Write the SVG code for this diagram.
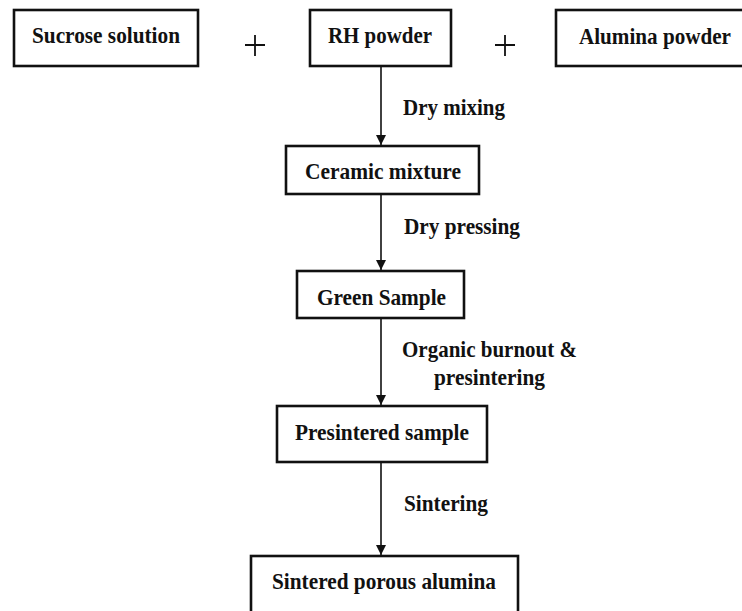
<svg xmlns="http://www.w3.org/2000/svg" width="742" height="611" viewBox="0 0 742 611">
<style>
.box{fill:#fff;stroke:#111;stroke-width:2.6}
.t{font-family:"Liberation Serif","Times New Roman",serif;font-weight:bold;font-size:24px;fill:#111}
.lbl{font-family:"Liberation Serif","Times New Roman",serif;font-weight:bold;font-size:23px;fill:#111}
.edge{stroke:#111;stroke-width:1.6;fill:none}
.plus{stroke:#111;stroke-width:1.8}
</style>
<defs>
<marker id="arr" viewBox="0 0 10 10" refX="10" refY="5" markerWidth="10" markerHeight="10" markerUnits="userSpaceOnUse" orient="auto">
<path d="M0,0 L10,5 L0,10 z" fill="#111"/>
</marker>
</defs>
<rect width="742" height="611" fill="#fff"/>
<g id="n-sucrose"><rect class="box" x="14" y="10" width="184" height="56"/><text class="t" x="32" y="43" textLength="148" lengthAdjust="spacingAndGlyphs">Sucrose solution</text></g>
<g id="n-rh"><rect class="box" x="310" y="10" width="141" height="56"/><text class="t" x="328" y="43" textLength="104" lengthAdjust="spacingAndGlyphs">RH powder</text></g>
<g id="n-alumina"><rect class="box" x="556" y="10" width="192" height="56"/><text class="t" x="579" y="44" textLength="152" lengthAdjust="spacingAndGlyphs">Alumina powder</text></g>
<g id="plus1"><path class="plus" d="M245,45 H265 M255,35 V56"/></g>
<g id="plus2"><path class="plus" d="M495,45 H515 M505,35 V56"/></g>
<g id="n-ceramic"><rect class="box" x="286" y="146" width="193" height="48"/><text class="t" x="305" y="179" textLength="156" lengthAdjust="spacingAndGlyphs">Ceramic mixture</text></g>
<g id="n-green"><rect class="box" x="297" y="271" width="167" height="47"/><text class="t" x="317" y="305" textLength="129" lengthAdjust="spacingAndGlyphs">Green Sample</text></g>
<g id="n-presintered"><rect class="box" x="277" y="406" width="210" height="56"/><text class="t" x="295" y="440" textLength="174" lengthAdjust="spacingAndGlyphs">Presintered sample</text></g>
<g id="n-sintered"><rect class="box" x="251" y="556" width="267" height="62"/><text class="t" x="272" y="589" textLength="224" lengthAdjust="spacingAndGlyphs">Sintered porous alumina</text></g>
<g id="connectors">
<line class="edge" x1="381" y1="66" x2="381" y2="145" marker-end="url(#arr)"/>
<line class="edge" x1="381" y1="194" x2="381" y2="270" marker-end="url(#arr)"/>
<line class="edge" x1="381" y1="318" x2="381" y2="405" marker-end="url(#arr)"/>
<line class="edge" x1="381" y1="462" x2="381" y2="555" marker-end="url(#arr)"/>
<text class="lbl" x="403" y="115" textLength="102" lengthAdjust="spacingAndGlyphs">Dry mixing</text>
<text class="lbl" x="404" y="234" textLength="116" lengthAdjust="spacingAndGlyphs">Dry pressing</text>
<text class="lbl" x="402" y="357" textLength="175" lengthAdjust="spacingAndGlyphs">Organic burnout &amp;</text>
<text class="lbl" x="434" y="385" textLength="111" lengthAdjust="spacingAndGlyphs">presintering</text>
<text class="lbl" x="404" y="511" textLength="84" lengthAdjust="spacingAndGlyphs">Sintering</text>
</g>
</svg>
